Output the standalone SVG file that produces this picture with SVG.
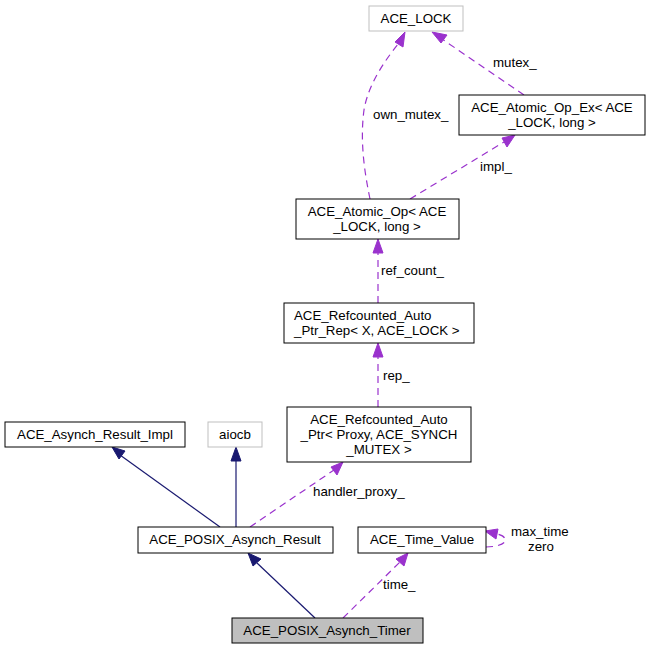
<svg xmlns="http://www.w3.org/2000/svg" width="650" height="649" viewBox="0 0 650 649">
<style>
.n{fill:#fff;stroke:#000;stroke-width:1}
.g{fill:#fff;stroke:#bfbfbf;stroke-width:1}
.h{fill:#bfbfbf;stroke:#000;stroke-width:1}
text{font-family:"Liberation Sans",Arial,sans-serif;font-size:13.3px;fill:#000}
.c{text-anchor:middle}
.s{fill:none;stroke:#191970;stroke-width:1.2}
.d{fill:none;stroke:#9a32cd;stroke-width:1.2;stroke-dasharray:7,5}
.as{fill:#191970;stroke:#191970}
.ad{fill:#9a32cd;stroke:#9a32cd}
</style>
<rect width="650" height="649" fill="#fff"/>
<g id="connectors">
<path class="s" d="M315,618 L257,563"/>
<polygon class="as" points="248,553 261,559 253,566"/>
<path class="d" d="M343,618 L400,562"/>
<polygon class="ad" points="408,553 404,566 396,559"/>
<text x="383" y="589">time_</text>
<path class="d" d="M486,547 C496,547 507,544 505,539 C504,536 501,535 497,534"/>
<polygon class="ad" points="485,531 498,529 496,539"/>
<text x="511" y="536">max_time</text>
<text x="528" y="551">zero</text>
<path class="s" d="M220,527 L120,455"/>
<polygon class="as" points="112,447 125,451 119,459"/>
<path class="s" d="M236,527 L236,459"/>
<polygon class="as" points="236,447 241,461 231,461"/>
<path class="d" d="M250,527 L334,470"/>
<polygon class="ad" points="343,462 337,475 331,467"/>
<text x="313" y="496">handler_proxy_</text>
<path class="d" d="M378,407 L378,356"/>
<polygon class="ad" points="378,343 383,357 373,357"/>
<text x="383" y="380">rep_</text>
<path class="d" d="M378,303 L378,252"/>
<polygon class="ad" points="378,239 383,253 373,253"/>
<text x="381" y="275">ref_count_</text>
<path class="d" d="M410,199 L504,142"/>
<polygon class="ad" points="515,135 507,147 502,138"/>
<text x="480" y="171">impl_</text>
<path class="d" d="M370,199 C364,170 360,140 364,110 C368,85 385,60 399,43"/>
<polygon class="ad" points="405,32 403,47 395,42"/>
<text x="373" y="119">own_mutex_</text>
<path class="d" d="M524,95 L442,39"/>
<polygon class="ad" points="432,32 447,35 441,43"/>
<text x="493" y="67">mutex_</text>
</g>
<g id="ACE_LOCK"><rect class="g" x="369" y="6" width="94" height="25"/><text class="c" x="416" y="23">ACE_LOCK</text></g>
<g id="ACE_Atomic_Op_Ex"><rect class="n" x="459" y="95" width="186" height="40"/><text class="c" x="552" y="112">ACE_Atomic_Op_Ex&lt; ACE</text><text class="c" x="552" y="127">_LOCK, long &gt;</text></g>
<g id="ACE_Atomic_Op"><rect class="n" x="296" y="199" width="163" height="40"/><text class="c" x="377" y="216">ACE_Atomic_Op&lt; ACE</text><text class="c" x="377" y="231">_LOCK, long &gt;</text></g>
<g id="ACE_Refcounted_Auto_Ptr_Rep"><rect class="n" x="284" y="303" width="190" height="40"/><text x="294" y="320">ACE_Refcounted_Auto</text><text x="294" y="335">_Ptr_Rep&lt; X, ACE_LOCK &gt;</text></g>
<g id="ACE_Refcounted_Auto_Ptr"><rect class="n" x="287" y="407" width="184" height="55"/><text class="c" x="379" y="424">ACE_Refcounted_Auto</text><text class="c" x="379" y="439">_Ptr&lt; Proxy, ACE_SYNCH</text><text class="c" x="379" y="454">_MUTEX &gt;</text></g>
<g id="ACE_Asynch_Result_Impl"><rect class="n" x="5" y="422" width="180" height="25"/><text class="c" x="95" y="439">ACE_Asynch_Result_Impl</text></g>
<g id="aiocb"><rect class="g" x="208" y="422" width="54" height="25"/><text class="c" x="235" y="439">aiocb</text></g>
<g id="ACE_POSIX_Asynch_Result"><rect class="n" x="138" y="527" width="195" height="26"/><text class="c" x="235" y="544">ACE_POSIX_Asynch_Result</text></g>
<g id="ACE_Time_Value"><rect class="n" x="358" y="527" width="128" height="26"/><text class="c" x="422" y="544">ACE_Time_Value</text></g>
<g id="ACE_POSIX_Asynch_Timer"><rect class="h" x="232" y="618" width="191" height="25"/><text class="c" x="327" y="635">ACE_POSIX_Asynch_Timer</text></g>
</svg>
